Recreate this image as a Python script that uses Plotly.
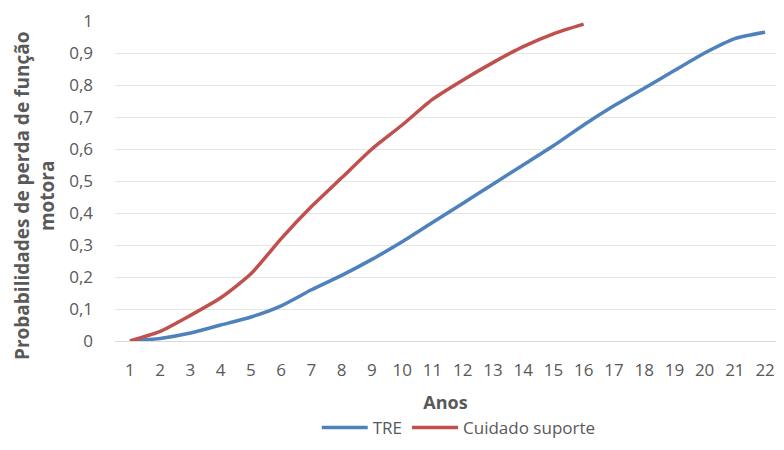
import plotly.graph_objects as go

anos = list(range(1, 23))
tre = [0, 0.008, 0.025, 0.05, 0.075, 0.11, 0.16, 0.205, 0.255, 0.31, 0.37,
       0.43, 0.49, 0.55, 0.61, 0.675, 0.735, 0.79, 0.845, 0.90, 0.945, 0.965]
anos_cs = list(range(1, 17))
cuidado = [0, 0.03, 0.08, 0.135, 0.21, 0.32, 0.42, 0.51, 0.60, 0.675, 0.755,
           0.815, 0.87, 0.92, 0.96, 0.99]
y_ticks = [0, 0.1, 0.2, 0.3, 0.4, 0.5, 0.6, 0.7, 0.8, 0.9, 1]
y_ticktext = ["0", "0,1", "0,2", "0,3", "0,4", "0,5", "0,6", "0,7", "0,8", "0,9", "1"]

FONT = "Open Sans"
GRAY = "#595959"

fig = go.Figure()
fig.add_trace(go.Scatter(x=anos, y=tre, mode="lines", name="TRE",
                         line=dict(color="#4F81BD", width=3.5, shape="spline", smoothing=0.6)))
fig.add_trace(go.Scatter(x=anos_cs, y=cuidado, mode="lines", name="Cuidado suporte",
                         line=dict(color="#C0504D", width=3.5, shape="spline", smoothing=0.6)))

fig.update_layout(
    width=768, height=434,
    margin=dict(l=107, r=0, t=13, b=101, autoexpand=False),
    plot_bgcolor="white", paper_bgcolor="white",
    font=dict(family=FONT, color=GRAY, size=17),
    showlegend=True,
    legend=dict(orientation="h", x=0.52, xanchor="center", y=-0.272, yanchor="middle",
                font=dict(size=17, color=GRAY), itemwidth=46),
    xaxis=dict(range=[0.505, 22.36], tickvals=anos, ticktext=[str(a) for a in anos],
               showgrid=False, zeroline=False, showline=False, ticks="",
               ticklabelstandoff=17, ticklabeloverflow="allow",
               tickfont=dict(size=17, color=GRAY),
               title=dict(text="<b>Anos</b>", font=dict(size=18, color=GRAY), standoff=16)),
    yaxis=dict(range=[0, 1], tickvals=y_ticks, ticktext=y_ticktext,
               showgrid=True, gridcolor="#E6E6E6", gridwidth=1,
               zeroline=True, zerolinecolor="#D9D9D9", zerolinewidth=1,
               showline=False, ticks="", ticklabelstandoff=21,
               tickfont=dict(size=17, color=GRAY)),
    annotations=[dict(text="<b>Probabilidades de perda de função<br>motora</b>",
                      xref="paper", yref="paper", x=-0.1226, y=0.453,
                      xanchor="center", yanchor="middle", textangle=-90,
                      showarrow=False, font=dict(size=19, color=GRAY))],
)

fig.write_html("out.html")
